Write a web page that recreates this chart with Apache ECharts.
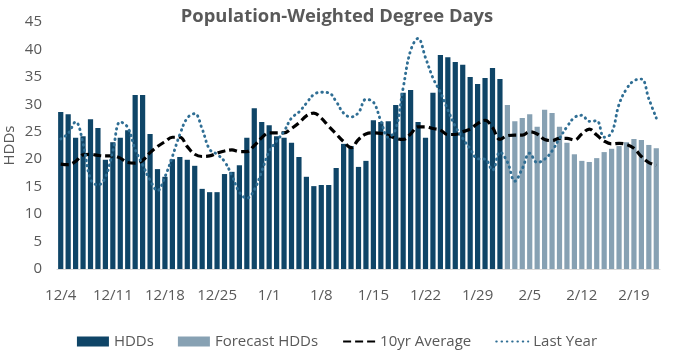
<!DOCTYPE html>
<html>
<head>
<meta charset="utf-8">
<script src="https://cdn.jsdelivr.net/npm/echarts@6/dist/echarts.min.js"></script>
<style>
html,body{margin:0;padding:0;background:#fff;}
#c{width:674px;height:363px;}
</style>
</head>
<body>
<div id="c"></div>
<script>
var dates = ["12/4","12/5","12/6","12/7","12/8","12/9","12/10","12/11","12/12","12/13","12/14","12/15","12/16","12/17","12/18","12/19","12/20","12/21","12/22","12/23","12/24","12/25","12/26","12/27","12/28","12/29","12/30","12/31",
"1/1","1/2","1/3","1/4","1/5","1/6","1/7","1/8","1/9","1/10","1/11","1/12","1/13","1/14","1/15","1/16","1/17","1/18","1/19","1/20","1/21","1/22","1/23","1/24","1/25","1/26","1/27","1/28","1/29","1/30","1/31",
"2/1","2/2","2/3","2/4","2/5","2/6","2/7","2/8","2/9","2/10","2/11","2/12","2/13","2/14","2/15","2/16","2/17","2/18","2/19","2/20","2/21","2/22"];

var hdds = [28.6,28.2,23.9,24.2,27.3,25.7,19.9,23.1,23.9,25.3,31.7,31.7,24.6,18.2,16.8,20.0,20.4,19.9,18.8,14.6,
14.0,14.0,17.3,17.7,18.9,23.9,29.3,26.8,26.2,24.2,23.9,23.0,20.4,16.8,15.1,15.3,15.3,18.4,22.8,22.4,
18.6,19.7,27.1,26.8,26.9,29.9,32.1,32.6,26.8,23.9,32.1,39.0,38.6,37.7,37.2,35.0,33.7,34.8,36.6,34.6];

var forecast = [29.9,26.9,27.5,28.2,25.9,29.0,28.4,25.9,23.0,20.9,19.7,19.5,20.2,21.3,21.9,22.4,23.1,23.7,23.5,22.6,22.0];

var avg10 = [19.1,19.0,19.6,20.8,20.9,20.7,20.6,20.6,20.2,19.4,19.3,19.8,21.2,22.3,23.2,24.0,24.0,22.3,20.9,20.5,
20.6,21.1,21.5,21.7,21.4,21.4,22.5,23.9,24.8,24.8,24.8,25.6,26.6,27.9,28.4,27.5,26.0,24.6,23.2,22.1,
23.6,24.6,24.8,24.7,24.3,23.8,23.6,24.6,25.9,25.9,25.6,25.3,24.5,24.5,25.0,25.5,26.5,27.1,25.8,23.6,
24.3,24.4,24.4,25.0,24.6,23.6,23.4,23.8,23.8,23.5,24.6,25.5,24.4,23.3,22.8,22.9,22.7,22.0,20.5,19.4,18.9];

var lastYear = [23.7,24.7,26.8,22.9,16.4,15.3,16.7,21.5,26.8,25.8,21.8,19.0,16.2,14.3,16.8,20.5,24.5,27.5,28.3,25.5,
21.8,20.9,19.6,17.0,14.0,12.9,14.4,17.8,21.4,23.3,25.1,27.5,28.6,30.2,31.8,32.2,32.1,30.5,28.4,27.7,
28.5,30.9,30.4,27.0,24.0,25.5,33.0,39.8,42.0,38.5,34.8,32.2,29.0,26.0,23.8,21.9,20.1,20.0,18.0,21.3,
19.5,16.0,18.3,21.1,19.4,20.0,21.5,23.8,25.9,27.6,28.0,26.9,27.0,24.0,24.8,30.0,32.8,34.3,34.6,31.0,27.5];

var yTicks = {min: 0, max: 45, interval: 5};

var hddSeries = dates.map(function(d, i){ return i < hdds.length ? hdds[i] : '-'; });
var fcSeries = dates.map(function(d, i){ return i < hdds.length ? '-' : forecast[i - hdds.length]; });

var FONT = "'Open Sans', sans-serif";
var chart = echarts.init(document.getElementById('c'), null, {renderer: 'canvas'});
chart.setOption({
  animation: false,
  backgroundColor: '#fff',
  title: {
    text: 'Population-Weighted Degree Days',
    left: 'center', top: 3,
    textStyle: {fontFamily: FONT, fontWeight: 'bold', fontSize: 18.4, color: '#595959'}
  },
  grid: {left: 57, right: 14, top: 22, bottom: 94, containLabel: false, outerBoundsMode: 'none'},
  legend: {
    bottom: 9, left: 'center',
    itemWidth: 32, itemHeight: 10, itemGap: 24,
    textStyle: {fontFamily: FONT, fontSize: 15, color: '#595959'},
    data: [
      {name: 'HDDs', icon: 'rect'},
      {name: 'Forecast HDDs', icon: 'rect'},
      {name: '10yr Average', itemStyle: {color: 'rgba(0,0,0,0)', borderWidth: 0}},
      {name: 'Last Year', itemStyle: {color: 'rgba(0,0,0,0)', borderWidth: 0}}
    ]
  },
  xAxis: {
    type: 'category', data: dates, boundaryGap: true,
    axisLine: {lineStyle: {color: '#D9D9D9', width: 1}},
    axisTick: {show: false},
    axisLabel: {interval: 6, margin: 19, fontFamily: FONT, fontSize: 15, color: '#595959'}
  },
  yAxis: {
    type: 'value', min: yTicks.min, max: yTicks.max, interval: yTicks.interval,
    name: 'HDDs', nameLocation: 'middle', nameGap: 40, nameRotate: 90, nameMoveOverlap: false,
    nameTextStyle: {fontFamily: FONT, fontSize: 15, color: '#595959'},
    axisLine: {show: false}, axisTick: {show: false}, splitLine: {show: false},
    axisLabel: {margin: 15, fontFamily: FONT, fontSize: 15, color: '#595959'}
  },
  series: [
    {name: 'HDDs', type: 'bar', data: hddSeries, barCategoryGap: '30%', barGap: '-100%',
     itemStyle: {color: '#0F4567'}},
    {name: 'Forecast HDDs', type: 'bar', data: fcSeries, barCategoryGap: '30%', barGap: '-100%',
     itemStyle: {color: '#87A1B3'}},
    {name: '10yr Average', type: 'line', data: avg10, smooth: 0.4, symbol: 'none', showSymbol: false,
     lineStyle: {color: '#000', width: 3.2, type: [8, 4]}, itemStyle: {color: '#000'}, z: 4},
    {name: 'Last Year', type: 'line', data: lastYear, smooth: 0.4, symbol: 'none', showSymbol: false,
     lineStyle: {color: '#2F6E94', width: 2.9, type: [0.5, 4.8], cap: 'round'}, itemStyle: {color: '#2F6E94'}, z: 5}
  ]
});
</script>
</body>
</html>
